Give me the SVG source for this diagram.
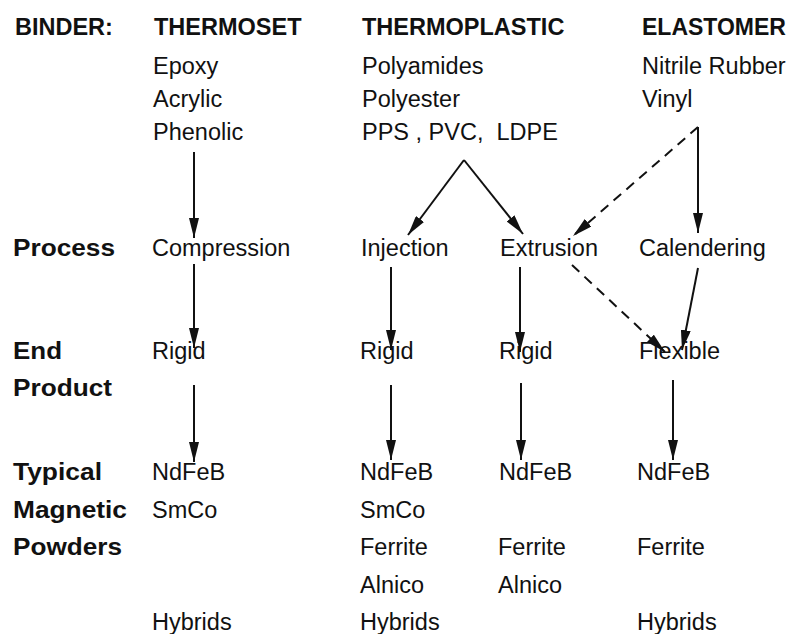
<svg xmlns="http://www.w3.org/2000/svg" width="795" height="634" viewBox="0 0 795 634">
<style>
text{font-family:"Liberation Sans",Arial,sans-serif;font-size:23.5px;fill:#111}
.b{font-weight:bold}
.ln{stroke:#111;stroke-width:2;fill:none}
.d{stroke-dasharray:10 7}
</style>
<defs>
<marker id="ah" viewBox="0 0 20 10" markerWidth="20" markerHeight="10" refX="20" refY="5" orient="auto" markerUnits="userSpaceOnUse">
<path d="M0,0 L20,5 L0,10 z" fill="#111"/>
</marker>
</defs>
<rect width="795" height="634" fill="#fff"/>
<g id="labels">
<text class="b" x="15" y="35">BINDER:</text>
<text class="b" x="13" y="256" textLength="102" lengthAdjust="spacingAndGlyphs">Process</text>
<text class="b" x="13" y="359" textLength="49" lengthAdjust="spacingAndGlyphs">End</text>
<text class="b" x="13" y="396" textLength="99" lengthAdjust="spacingAndGlyphs">Product</text>
<text class="b" x="13" y="480" textLength="89" lengthAdjust="spacingAndGlyphs">Typical</text>
<text class="b" x="13" y="518" textLength="114" lengthAdjust="spacingAndGlyphs">Magnetic</text>
<text class="b" x="13" y="555" textLength="109" lengthAdjust="spacingAndGlyphs">Powders</text>
</g>
<g id="thermoset">
<text class="b" x="154" y="35">THERMOSET</text>
<text x="153" y="74">Epoxy</text>
<text x="153" y="107">Acrylic</text>
<text x="153" y="140">Phenolic</text>
</g>
<g id="thermoplastic">
<text class="b" x="362" y="35">THERMOPLASTIC</text>
<text x="362" y="74">Polyamides</text>
<text x="362" y="107">Polyester</text>
<text x="362" y="140" xml:space="preserve">PPS , PVC,  LDPE</text>
</g>
<g id="elastomer">
<text class="b" x="642" y="35" style="font-size:23px">ELASTOMER</text>
<text x="642" y="74">Nitrile Rubber</text>
<text x="642" y="107">Vinyl</text>
</g>
<g id="compression"><text x="152" y="256">Compression</text></g>
<g id="injection"><text x="361" y="256">Injection</text></g>
<g id="extrusion"><text x="500" y="256">Extrusion</text></g>
<g id="calendering"><text x="639" y="256">Calendering</text></g>
<g id="rigid1"><text x="152" y="359">Rigid</text></g>
<g id="rigid2"><text x="360" y="359">Rigid</text></g>
<g id="rigid3"><text x="499" y="359">Rigid</text></g>
<g id="flexible"><text x="639" y="359">Flexible</text></g>
<g id="powders1">
<text x="152" y="480">NdFeB</text>
<text x="152" y="518">SmCo</text>
<text x="152" y="630">Hybrids</text>
</g>
<g id="powders2">
<text x="360" y="480">NdFeB</text>
<text x="360" y="518">SmCo</text>
<text x="360" y="555">Ferrite</text>
<text x="360" y="593">Alnico</text>
<text x="360" y="630">Hybrids</text>
</g>
<g id="powders3">
<text x="499" y="480">NdFeB</text>
<text x="498" y="555">Ferrite</text>
<text x="498" y="593">Alnico</text>
</g>
<g id="powders4">
<text x="637" y="480">NdFeB</text>
<text x="637" y="555">Ferrite</text>
<text x="637" y="630">Hybrids</text>
</g>
<g id="connectors" class="ln">
<line x1="194" y1="152" x2="194" y2="238" marker-end="url(#ah)"/>
<line x1="194" y1="264" x2="194" y2="348" marker-end="url(#ah)"/>
<line x1="194" y1="385" x2="194" y2="462" marker-end="url(#ah)"/>
<line x1="464" y1="160" x2="408" y2="235" marker-end="url(#ah)"/>
<line x1="464" y1="160" x2="523" y2="234" marker-end="url(#ah)"/>
<line x1="391" y1="267" x2="391" y2="350" marker-end="url(#ah)"/>
<line x1="391" y1="385" x2="391" y2="460" marker-end="url(#ah)"/>
<line x1="520" y1="267" x2="520" y2="352" marker-end="url(#ah)"/>
<line x1="521" y1="383" x2="521" y2="460" marker-end="url(#ah)"/>
<line x1="698" y1="127" x2="698" y2="233" marker-end="url(#ah)"/>
<line class="d" x1="698" y1="127" x2="573" y2="236" marker-end="url(#ah)"/>
<line class="d" x1="572" y1="265" x2="665" y2="352" marker-end="url(#ah)"/>
<line x1="698" y1="268" x2="682" y2="350" marker-end="url(#ah)"/>
<line x1="673" y1="380" x2="673" y2="460" marker-end="url(#ah)"/>
</g>
</svg>
